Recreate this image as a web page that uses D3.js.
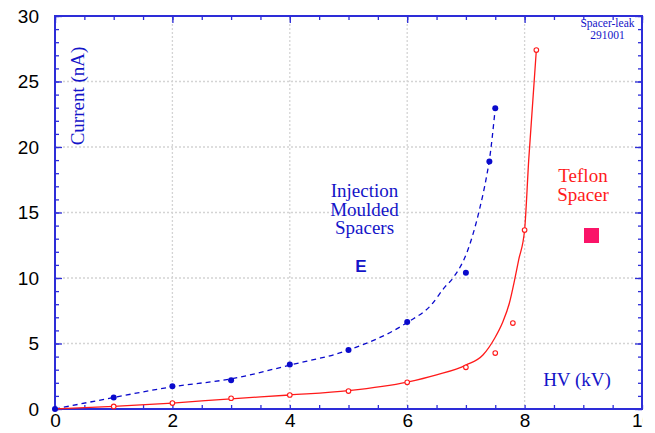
<!DOCTYPE html>
<html>
<head>
<meta charset="utf-8">
<script src="https://cdn.jsdelivr.net/npm/d3@7"></script>
<style>
  html, body { margin: 0; padding: 0; background: #fff; }
  svg { display: block; }
</style>
</head>
<body>
<svg id="chart" width="655" height="433"></svg>
<script>
// Leakage current vs high voltage for two spacer types
const hvMoulded = [0, 1, 2, 3, 4, 5, 6, 7, 7.4, 7.5];
const currentMoulded = [0, 0.88, 1.73, 2.2, 3.4, 4.5, 6.65, 10.4, 18.9, 22.95];
// smoothed trend through the moulded-spacer readings
const fitMouldedHV = [0, 1, 2, 3, 4, 5, 6, 6.4, 6.64, 6.78, 7.03, 7.23, 7.35, 7.4, 7.5];
const fitMouldedI = [0, 0.88, 1.7, 2.3, 3.35, 4.5, 6.6, 7.9, 9.3, 10.0, 12.1, 15.2, 17.7, 19.0, 22.95];

const hvTeflon = [1, 2, 3, 4, 5, 6, 7, 7.5, 7.8, 8.0, 8.2];
const currentTeflon = [0.2, 0.45, 0.82, 1.07, 1.37, 2.04, 3.18, 4.27, 6.56, 13.66, 27.4];
// fitted trend for the Teflon spacer
const fitTeflonHV = [0, 1, 2, 3, 4, 5, 6, 6.5, 7.0, 7.29, 7.49, 7.63, 7.74, 7.83, 7.9, 8.0, 8.07, 8.2];
const fitTeflonI = [0, 0.2, 0.45, 0.78, 1.07, 1.4, 2.05, 2.6, 3.35, 4.12, 5.4, 6.66, 8.07, 9.85, 11.4, 13.66, 19.0, 27.4];

const xMajorTicks = [0, 2, 4, 6, 8, 10];
const yMajorTicks = [0, 5, 10, 15, 20, 25, 30];
const xMinorTicks = d3.range(0, 10.01, 0.5);
const yMinorTicks = d3.range(0, 30.01, 1);

const W = 655, H = 433;
const plotL = 55, plotR = 642, plotT = 16, plotB = 409;

const axisColor = "#2d2dd8";
const textBlue = "#1414c8";
const dataBlue = "#0a0acc";
const red = "#ff1a1a";

const svg = d3.select("#chart");

const x = d3.scaleLinear().domain([0, 10]).range([plotL, plotR]);
const y = d3.scaleLinear().domain([0, 30]).range([plotB, plotT]);

// dotted grid at major ticks
const grid = svg.append("g").attr("stroke", "#d4d4d4").attr("stroke-width", 1.3)
  .attr("stroke-dasharray", "2,2");
grid.selectAll("line.gx").data(xMajorTicks.slice(1, -1)).join("line").attr("class", "gx")
  .attr("x1", d => x(d)).attr("x2", d => x(d)).attr("y1", plotT).attr("y2", plotB);
grid.selectAll("line.gy").data(yMajorTicks.slice(1, -1)).join("line").attr("class", "gy")
  .attr("y1", d => y(d)).attr("y2", d => y(d)).attr("x1", plotL).attr("x2", plotR);

// axes with inward ticks on all four sides
function styleAxis(g) {
  g.select(".domain").remove();
  g.selectAll(".tick line").attr("stroke", axisColor).attr("stroke-width", 1.3);
  g.selectAll("text").attr("fill", "#000").attr("font-family", "Liberation Sans, Arial, sans-serif")
    .attr("font-size", 19);
}

svg.append("defs").append("clipPath").attr("id", "labelClip")
  .append("rect").attr("x", 0).attr("y", 0).attr("width", 643).attr("height", H);

// bottom
svg.append("g").attr("transform", `translate(0,${plotB})`)
  .call(d3.axisBottom(x).tickValues(xMinorTicks).tickSizeInner(-4).tickSizeOuter(0).tickFormat(""))
  .call(styleAxis);
svg.append("g").attr("transform", `translate(0,${plotB})`).attr("clip-path", "url(#labelClip)")
  .call(d3.axisBottom(x).tickValues(xMajorTicks).tickSizeInner(-7).tickSizeOuter(0).tickPadding(5)
    .tickFormat(d3.format("d")))
  .call(styleAxis);
// top
svg.append("g").attr("transform", `translate(0,${plotT})`)
  .call(d3.axisTop(x).tickValues(xMinorTicks).tickSizeInner(-4).tickSizeOuter(0).tickFormat(""))
  .call(styleAxis);
svg.append("g").attr("transform", `translate(0,${plotT})`)
  .call(d3.axisTop(x).tickValues(xMajorTicks).tickSizeInner(-7).tickSizeOuter(0).tickFormat(""))
  .call(styleAxis);
// left
svg.append("g").attr("transform", `translate(${plotL},0)`)
  .call(d3.axisLeft(y).tickValues(yMinorTicks).tickSizeInner(-4).tickSizeOuter(0).tickFormat(""))
  .call(styleAxis);
svg.append("g").attr("transform", `translate(${plotL},0)`)
  .call(d3.axisLeft(y).tickValues(yMajorTicks).tickSizeInner(-7).tickSizeOuter(0).tickPadding(16)
    .tickFormat(d3.format("d")))
  .call(styleAxis);
// right
svg.append("g").attr("transform", `translate(${plotR},0)`)
  .call(d3.axisRight(y).tickValues(yMinorTicks).tickSizeInner(-4).tickSizeOuter(0).tickFormat(""))
  .call(styleAxis);
svg.append("g").attr("transform", `translate(${plotR},0)`)
  .call(d3.axisRight(y).tickValues(yMajorTicks).tickSizeInner(-7).tickSizeOuter(0).tickFormat(""))
  .call(styleAxis);

// frame
svg.append("rect").attr("x", plotL).attr("y", plotT).attr("width", plotR - plotL).attr("height", plotB - plotT)
  .attr("fill", "none").attr("stroke", axisColor).attr("stroke-width", 2);

// trend lines
const line = d3.line().x(d => x(d[0])).y(d => y(d[1])).curve(d3.curveMonotoneX);

svg.append("path").datum(d3.zip(fitMouldedHV, fitMouldedI))
  .attr("d", line).attr("fill", "none").attr("stroke", dataBlue).attr("stroke-width", 1.3)
  .attr("stroke-dasharray", "5,4");

svg.append("path").datum(d3.zip(fitTeflonHV, fitTeflonI))
  .attr("d", line).attr("fill", "none").attr("stroke", red).attr("stroke-width", 1.3);

// readings
svg.append("g").selectAll("circle").data(d3.zip(hvMoulded, currentMoulded)).join("circle")
  .attr("cx", d => x(d[0])).attr("cy", d => y(d[1])).attr("r", 3)
  .attr("fill", dataBlue);

svg.append("g").selectAll("circle").data(d3.zip(hvTeflon, currentTeflon)).join("circle")
  .attr("cx", d => x(d[0])).attr("cy", d => y(d[1])).attr("r", 2.3)
  .attr("fill", "#fff").attr("stroke", red).attr("stroke-width", 1.1);

// labels
const serif = "Liberation Serif, Times New Roman, serif";

svg.append("text").attr("transform", "translate(84,96) rotate(-90)")
  .attr("text-anchor", "middle").attr("font-family", serif).attr("font-size", 19)
  .attr("fill", textBlue).text("Current (nA)");

svg.append("text").attr("x", 577).attr("y", 386).attr("text-anchor", "middle")
  .attr("font-family", serif).attr("font-size", 19).attr("fill", textBlue).text("HV (kV)");

const moulded = ["Injection", "Moulded", "Spacers"];
svg.append("g").selectAll("text").data(moulded).join("text")
  .attr("x", 364.5).attr("y", (d, i) => 197 + i * 18.5).attr("text-anchor", "middle")
  .attr("font-family", serif).attr("font-size", 19).attr("fill", textBlue).text(d => d);

svg.append("text").attr("x", 361).attr("y", 272).attr("text-anchor", "middle")
  .attr("font-family", "Liberation Sans, Arial, sans-serif").attr("font-weight", "bold")
  .attr("font-size", 17).attr("fill", textBlue).text("E");

const teflon = ["Teflon", "Spacer"];
svg.append("g").selectAll("text").data(teflon).join("text")
  .attr("x", 583).attr("y", (d, i) => 182 + i * 19).attr("text-anchor", "middle")
  .attr("font-family", serif).attr("font-size", 19).attr("fill", red).text(d => d);

svg.append("rect").attr("x", 584).attr("y", 228).attr("width", 15).attr("height", 15)
  .attr("fill", "#fa1468");

const stamp = ["Spacer-leak", "291001"];
svg.append("g").selectAll("text").data(stamp).join("text")
  .attr("x", 607.5).attr("y", (d, i) => 27 + i * 11.5).attr("text-anchor", "middle")
  .attr("font-family", serif).attr("font-size", 11.5).attr("fill", textBlue).text(d => d);
</script>
</body>
</html>
